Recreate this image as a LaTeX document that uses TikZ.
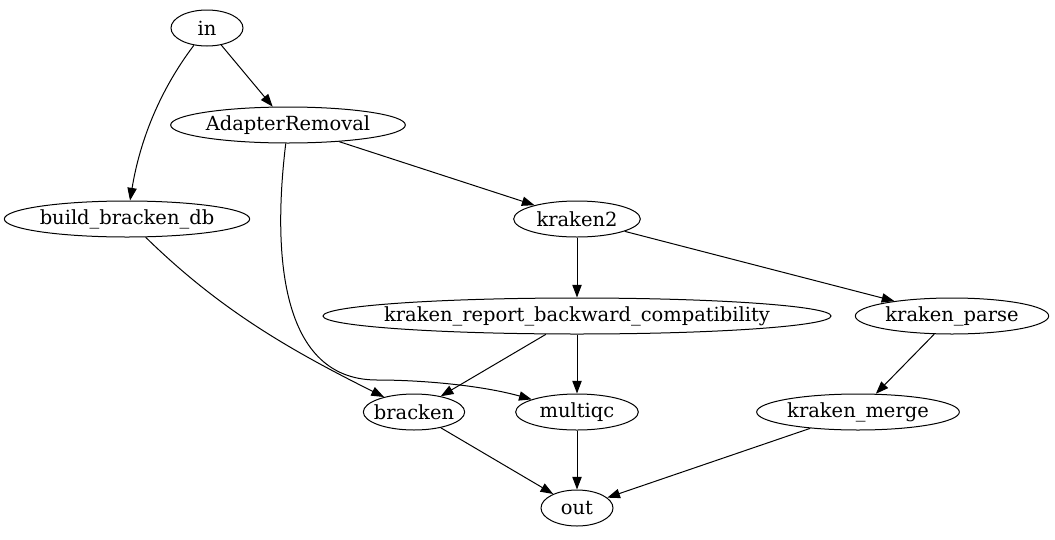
\documentclass[tikz,border=0pt]{standalone}
\usepackage{fontspec}
\setmainfont{DejaVu Serif}
\usetikzlibrary{shapes.geometric,arrows.meta}
\newcommand{\lbl}[1]{\makebox[0pt]{#1}}
\begin{document}
\begin{tikzpicture}[x=0.75pt,y=-0.75pt,
  every node/.style={ellipse,draw,line width=0.75pt,inner sep=0pt,minimum height=27pt,font=\fontsize{14.6}{16}\selectfont},
  edge/.style={draw,line width=0.75pt,-{Triangle[length=9.5pt,width=7pt]}}]
\useasboundingbox (0,0) rectangle (1055,539);
\node[minimum width=54pt] (in) at (207,28) {\lbl{in}};
\node[minimum width=176pt] (ar) at (288,125) {\lbl{AdapterRemoval}};
\node[minimum width=184pt] (bbd) at (127,219) {\lbl{build\_bracken\_db}};
\node[minimum width=95pt] (k2) at (577,219) {\lbl{kraken2}};
\node[minimum width=381pt] (krb) at (577,316) {\lbl{kraken\_report\_backward\_compatibility}};
\node[minimum width=145pt] (kp) at (952,316) {\lbl{kraken\_parse}};
\node[minimum width=76pt] (br) at (414,412) {\lbl{bracken}};
\node[minimum width=92pt] (mq) at (577,412) {\lbl{multiqc}};
\node[minimum width=152pt] (km) at (858,412) {\lbl{kraken\_merge}};
\node[minimum width=54pt] (out) at (577,508) {\lbl{out}};
\coordinate (m) at (377,380);
\path[edge] (in) -- (ar);
\path[edge] (in) .. controls (160,90) and (140,140) .. (bbd);
\path[edge] (ar) -- (k2);
\draw[line width=0.75pt] (ar) .. controls (274,240) and (275,380) .. (m);
\path[edge] (m) .. controls (420,380) and (480,385) .. (mq);
\path[edge] (bbd) .. controls (220,310) and (290,350) .. (br);
\path[edge] (k2) -- (krb);
\path[edge] (k2) -- (kp);
\path[edge] (krb) -- (br);
\path[edge] (krb) -- (mq);
\path[edge] (kp) -- (km);
\path[edge] (br) -- (out);
\path[edge] (mq) -- (out);
\path[edge] (km) -- (out);
\end{tikzpicture}
\end{document}
